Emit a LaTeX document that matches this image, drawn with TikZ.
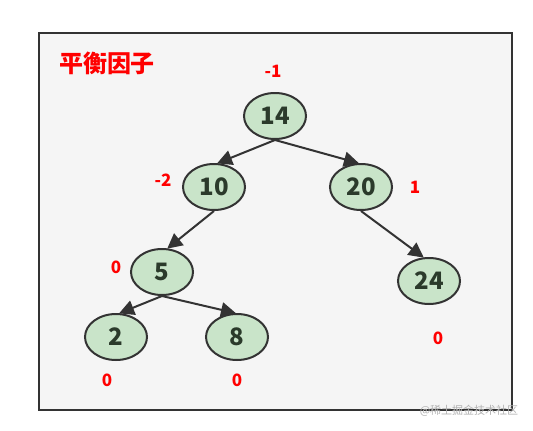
\documentclass[tikz,border=0pt]{standalone}
\usepackage{fontspec}
\setmainfont{Noto Sans CJK SC}
\usetikzlibrary{arrows.meta,shapes.geometric}
\definecolor{nodefill}{HTML}{C9E4C9}
\definecolor{stroke}{HTML}{333333}
\definecolor{bg}{HTML}{F5F5F5}
\definecolor{numtext}{HTML}{2B3A2B}
\tikzset{
  tnode/.style={ellipse, draw=stroke, line width=2pt, fill=nodefill, minimum width=62pt, minimum height=46pt, inner sep=0pt,
    font=\fontsize{24}{24}\selectfont\bfseries, text=numtext},
  bf/.style={font=\fontsize{17}{17}\selectfont\bfseries, text=red},
  conn/.style={draw=stroke, line width=2pt, -{Triangle[length=15pt,width=15pt]}, shorten >=-1pt}
}
\begin{document}
\begin{tikzpicture}[x=1pt,y=-1pt]
\useasboundingbox (0,0) rectangle (533,431);
\fill[white] (0,0) rectangle (533,431);
\draw[fill=bg, draw=stroke, line width=2.5pt] (39,33) rectangle (512,410);
\node[font=\fontsize{24}{24}\selectfont\bfseries, text=red] (title) at (107,63) {平衡因子};
\node[tnode] (n14) at (275,116) {14};
\node[tnode] (n10) at (214,187) {10};
\node[tnode] (n20) at (361,187) {20};
\node[tnode] (n5) at (162,272) {5};
\node[tnode] (n2) at (116,337) {2};
\node[tnode] (n8) at (237,337) {8};
\node[tnode] (n24) at (429,281) {24};
\draw[conn] (n14.south) -- ([xshift=4pt]n10.north);
\draw[conn] (n14.south) -- ([xshift=-3pt]n20.north);
\draw[conn] (n10.south) -- ([xshift=6pt]n5.north);
\draw[conn] (n5.south) -- ([xshift=4pt]n2.north);
\draw[conn] (n5.south) -- ([xshift=-2pt]n8.north);
\draw[conn] (n20.south) -- ([xshift=-6pt]n24.north);
\node[bf] (b14) at (273,71) {-1};
\node[bf] (b10) at (163,180) {-2};
\node[bf] (b20) at (415,187) {1};
\node[bf] (b5) at (116,267) {0};
\node[bf] (b2) at (107,380) {0};
\node[bf] (b8) at (237,380) {0};
\node[bf] (b24) at (438,338) {0};
\node[font=\fontsize{11}{11}\selectfont, text=black!30] (wm) at (469,411) {@稀土掘金技术社区};
\end{tikzpicture}
\end{document}
